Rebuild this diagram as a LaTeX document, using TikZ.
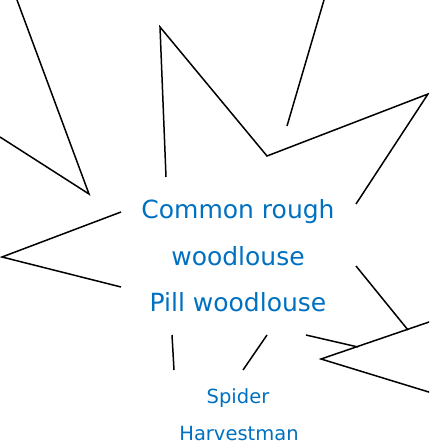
\documentclass[tikz,border=0pt]{standalone}
\usepackage{fontspec}
\setmainfont{DejaVu Sans}
\definecolor{txtblue}{RGB}{0,112,192}
\begin{document}
\begin{tikzpicture}[x=1pt,y=-1pt,
  spike/.style={draw=black,line width=1.5pt,line join=miter},
  bigtxt/.style={text=txtblue,font=\fontsize{25}{25}\selectfont,anchor=base,inner sep=0pt},
  smalltxt/.style={text=txtblue,font=\fontsize{19.5}{19.5}\selectfont,anchor=base,inner sep=0pt}]
\useasboundingbox (0,0) rectangle (429,446);
\begin{scope}
\clip (0,0) rectangle (429,446);
\draw[spike] (17,0) -- (89,194) -- (0,137);
\draw[spike] (121,212) -- (2,257) -- (121,287);
\draw[spike] (166,177) -- (160,27) -- (267,156) -- (428,94) -- (356,204);
\draw[spike] (324,0) -- (287,126);
\draw[spike] (356,266) -- (408,330);
\draw[spike] (432,321) -- (321,359) -- (432,393);
\draw[spike] (306,335) -- (358,347);
\draw[spike] (267,335) -- (243,370);
\draw[spike] (172,335) -- (174,370);
\end{scope}
\node[bigtxt] (l1) at (238,218) {Common rough};
\node[bigtxt] (l2) at (238,265) {woodlouse};
\node[bigtxt] (l3) at (238,311) {Pill woodlouse};
\node[smalltxt] (s1) at (238,403) {Spider};
\node[smalltxt] (s2) at (239,440) {Harvestman};
\end{tikzpicture}
\end{document}
